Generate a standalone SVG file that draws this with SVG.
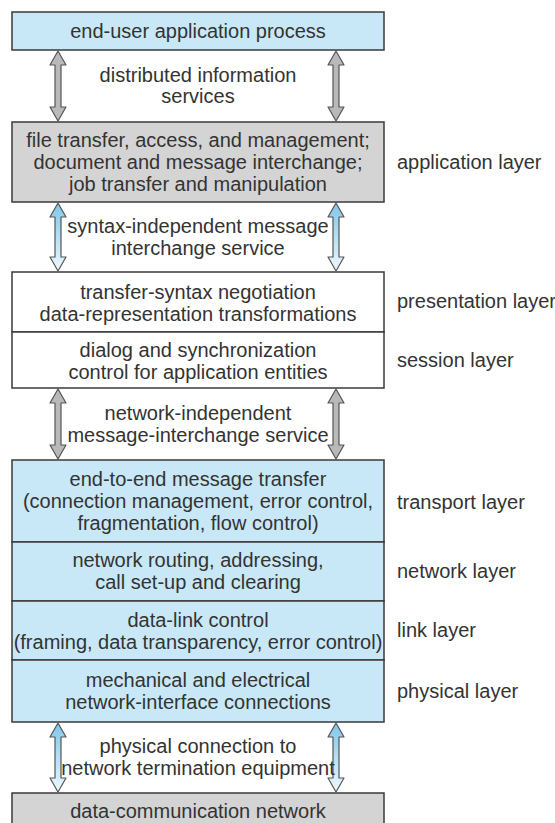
<svg xmlns="http://www.w3.org/2000/svg" width="555" height="823" viewBox="0 0 555 823">
<style>
  .box { stroke: #3a3a3a; stroke-width: 1.5; }
  .blue { fill: #c8e8f8; }
  .gray { fill: #d4d4d4; }
  .white { fill: #ffffff; }
  text { font-family: "Liberation Sans", Arial, sans-serif; font-size: 20px; fill: #333333; }
  .c { text-anchor: middle; }
  .garrow { fill: #b9b9b9; stroke: #555555; stroke-width: 1.2; stroke-linejoin: round; }
  .barrow { fill: url(#bgrad); stroke: #555555; stroke-width: 1.2; stroke-linejoin: round; }
</style>
<defs>
  <linearGradient id="bgrad" x1="0" y1="0" x2="0" y2="1">
    <stop offset="0" stop-color="#7fc6ea"/>
    <stop offset="1" stop-color="#eef8fd"/>
  </linearGradient>
</defs>
<rect width="555" height="823" fill="#ffffff"/>

<g id="end-user">
  <rect class="box blue" x="12" y="12" width="372" height="38"/>
  <text class="c" x="198" y="38">end-user application process</text>
</g>

<g id="application">
  <rect class="box gray" x="12" y="122" width="372" height="80"/>
  <text class="c" x="198" y="147">file transfer, access, and management;</text>
  <text class="c" x="198" y="169">document and message interchange;</text>
  <text class="c" x="198" y="191">job transfer and manipulation</text>
  <text x="397" y="169">application layer</text>
</g>

<g id="presentation">
  <rect class="box white" x="12" y="272" width="372" height="60"/>
  <text class="c" x="198" y="299">transfer-syntax negotiation</text>
  <text class="c" x="198" y="321">data-representation transformations</text>
  <text x="397" y="308">presentation layer</text>
</g>

<g id="session">
  <rect class="box white" x="12" y="332" width="372" height="56"/>
  <text class="c" x="198" y="357">dialog and synchronization</text>
  <text class="c" x="198" y="379">control for application entities</text>
  <text x="397" y="367">session layer</text>
</g>

<g id="transport">
  <rect class="box blue" x="12" y="460" width="372" height="82"/>
  <text class="c" x="198" y="486">end-to-end message transfer</text>
  <text class="c" x="198" y="508">(connection management, error control,</text>
  <text class="c" x="198" y="530">fragmentation, flow control)</text>
  <text x="397" y="509">transport layer</text>
</g>

<g id="network">
  <rect class="box blue" x="12" y="542" width="372" height="59"/>
  <text class="c" x="198" y="567">network routing, addressing,</text>
  <text class="c" x="198" y="589">call set-up and clearing</text>
  <text x="397" y="578">network layer</text>
</g>

<g id="link">
  <rect class="box blue" x="12" y="601" width="372" height="59"/>
  <text class="c" x="198" y="627">data-link control</text>
  <text class="c" x="198" y="649">(framing, data transparency, error control)</text>
  <text x="397" y="637">link layer</text>
</g>

<g id="physical">
  <rect class="box blue" x="12" y="660" width="372" height="62"/>
  <text class="c" x="198" y="687">mechanical and electrical</text>
  <text class="c" x="198" y="709">network-interface connections</text>
  <text x="397" y="698">physical layer</text>
</g>

<g id="data-network">
  <rect class="box gray" x="12" y="793" width="372" height="40"/>
  <text class="c" x="198" y="818">data-communication network</text>
</g>

<g id="connectors">
  <polygon class="garrow" points="58,51 66,65 61,65 61,107 66,107 58,121 50,107 55,107 55,65 50,65"/>
  <polygon class="garrow" points="336,51 344,65 339,65 339,107 344,107 336,121 328,107 333,107 333,65 328,65"/>
  <text class="c" x="198" y="82">distributed information</text>
  <text class="c" x="198" y="103">services</text>

  <polygon class="barrow" points="58,203 66,217 61,217 61,257 66,257 58,271 50,257 55,257 55,217 50,217"/>
  <polygon class="barrow" points="336,203 344,217 339,217 339,257 344,257 336,271 328,257 333,257 333,217 328,217"/>
  <text class="c" x="198" y="233">syntax-independent message</text>
  <text class="c" x="198" y="255">interchange service</text>

  <polygon class="garrow" points="58,389 66,403 61,403 61,445 66,445 58,459 50,445 55,445 55,403 50,403"/>
  <polygon class="garrow" points="336,389 344,403 339,403 339,445 344,445 336,459 328,445 333,445 333,403 328,403"/>
  <text class="c" x="198" y="420">network-independent</text>
  <text class="c" x="198" y="442">message-interchange service</text>

  <polygon class="barrow" points="58,723 66,737 61,737 61,778 66,778 58,792 50,778 55,778 55,737 50,737"/>
  <polygon class="barrow" points="336,723 344,737 339,737 339,778 344,778 336,792 328,778 333,778 333,737 328,737"/>
  <text class="c" x="198" y="753">physical connection to</text>
  <text class="c" x="198" y="775">network termination equipment</text>
</g>
</svg>
